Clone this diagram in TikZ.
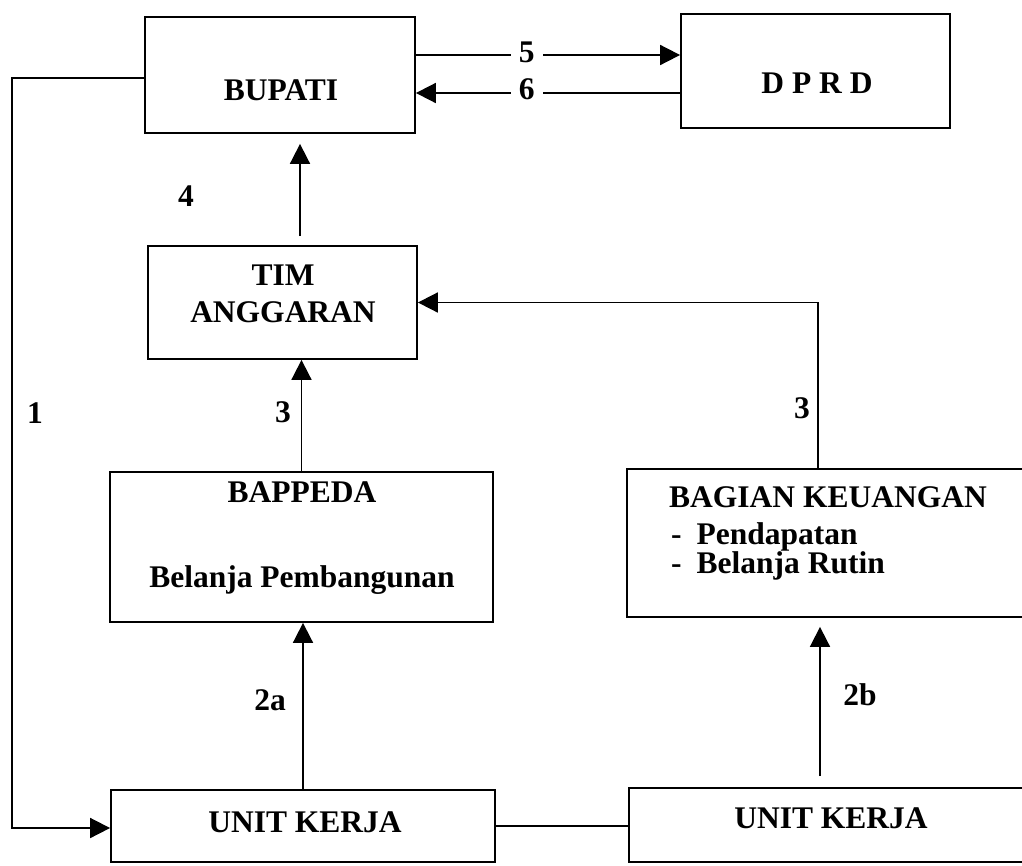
\documentclass[tikz,border=0pt]{standalone}
\usepackage{fontspec}
\setmainfont{Liberation Serif}
\usetikzlibrary{arrows.meta}
\begin{document}
\begin{tikzpicture}[x=1pt,y=-1pt,
  box/.style={draw, line width=1.8pt, inner sep=0pt, shape=rectangle},
  txt/.style={inner sep=0pt, font=\bfseries\fontsize{31.5}{28}\selectfont},
  num/.style={inner sep=0pt, font=\bfseries\fontsize{31.5}{36}\selectfont},
  onl/.style={fill=white, inner xsep=8pt, inner ysep=2pt, font=\bfseries\fontsize{31.5}{36}\selectfont},
  conn/.style={line width=1.8pt},
  arr/.style={line width=1.8pt, -{Triangle[length=20pt,width=20pt]}}]
\useasboundingbox (0,0) rectangle (1022,865);
\clip (0,0) rectangle (1022,865);
\fill[white] (0,0) rectangle (1022,865);
% boxes
\node[box, minimum width=270pt, minimum height=116pt] (bupati) at (280,75) {};
\node[box, minimum width=269pt, minimum height=114pt] (dprd) at (815.5,71) {};
\node[box, minimum width=269pt, minimum height=113pt] (tim) at (282.5,302.5) {};
\node[box, minimum width=383pt, minimum height=150pt] (bappeda) at (301.5,547) {};
\node[box, minimum width=413pt, minimum height=148pt] (bagian) at (833.5,543) {};
\node[box, minimum width=384pt, minimum height=72pt] (uk1) at (303,826) {};
\node[box, minimum width=411pt, minimum height=74pt] (uk2) at (834.5,825) {};
% texts
\node[txt, anchor=base] (tBupati) at (281,100) {BUPATI};
\node[txt, anchor=base] (tDprd) at (817,93) {D P R D};
\node[txt, anchor=base] (tTim1) at (283,285) {TIM};
\node[txt, anchor=base] (tTim2) at (283,322) {ANGGARAN};
\node[txt, anchor=base] (tBap1) at (302,502) {BAPPEDA};
\node[txt, anchor=base] (tBap2) at (302,587) {Belanja Pembangunan};
\node[txt, anchor=base west] (tBag1) at (669,507) {BAGIAN KEUANGAN};
\node[txt, anchor=north west, align=left, text depth=0pt] (tBag2) at (671,522)
  {-\hspace{15pt}Pendapatan\\-\hspace{15pt}Belanja Rutin};
\node[txt, anchor=base] (tUk1) at (305,832) {UNIT KERJA};
\node[txt, anchor=base] (tUk2) at (831,828) {UNIT KERJA};
% connectors
\draw[arr] ([yshift=20pt]bupati.east) coordinate (a5) -- (a5 -| dprd.west)
  node[onl, pos=0.42, yshift=3pt] (n5) {5};
\path ([yshift=-18pt]bupati.east) coordinate (a6);
\draw[arr] (a6 -| dprd.west) -- (a6)
  node[onl, pos=0.58, yshift=4pt] (n6) {6};
\coordinate (bendA) at (12,78);
\coordinate (bendB) at (12,828);
\draw[arr] ([yshift=-3pt]bupati.west) -- (bendA) -- (bendB) -- (bendB -| uk1.west);
\draw[arr, shorten <=9pt, shorten >=10pt] ([xshift=17.5pt]tim.north) -- ([xshift=17.5pt]tim.north |- bupati.south);
\draw[arr] (bappeda.north) -- (bappeda.north |- tim.south);
\draw[arr] ([xshift=-15.5pt]bagian.north) |- (tim.east);
\draw[arr] (uk1.north) -- (uk1.north |- bappeda.south);
\draw[arr, shorten <=11pt, shorten >=9pt] ([xshift=-14.5pt]uk2.north) -- ([xshift=-14.5pt]uk2.north |- bagian.south);
\draw[conn] (uk1.east) -- (uk1.east -| uk2.west);
% labels
\node[num] (l1) at (35,413) {1};
\node[num] (l3a) at (283,412) {3};
\node[num] (l3b) at (802,408) {3};
\node[num] (l4) at (186,196) {4};
\node[num] (l2a) at (270,700) {2a};
\node[num] (l2b) at (860,695) {2b};
\end{tikzpicture}
\end{document}
